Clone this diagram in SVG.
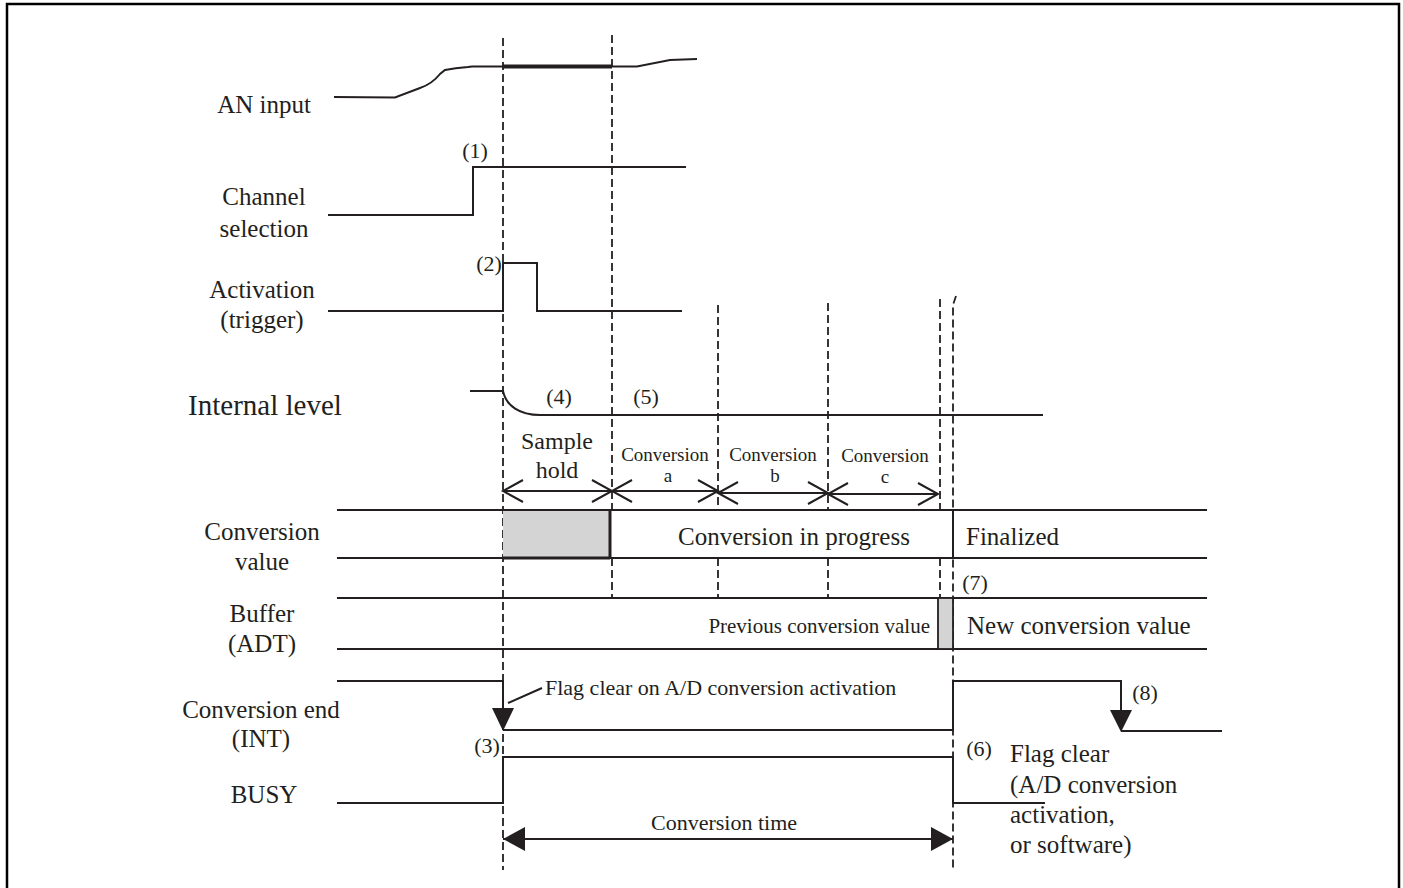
<svg xmlns="http://www.w3.org/2000/svg" width="1403" height="888" viewBox="0 0 1403 888">
<style>
text{font-family:"Liberation Serif","Times New Roman",serif;fill:#231f20}
.lbl{font-size:25px;text-anchor:middle}
.num{font-size:22px;text-anchor:middle}
.ph{font-size:19px;text-anchor:middle}
.w{fill:none;stroke:#231f20;stroke-width:2}
.dash{fill:none;stroke:#231f20;stroke-width:1.8;stroke-dasharray:8 4}
.oa{fill:none;stroke:#231f20;stroke-width:2}
.fa{fill:#231f20;stroke:none}
</style>
<rect x="7" y="4" width="1392" height="890" fill="#fff" stroke="#000" stroke-width="2.5"/>

<g id="guides">
<path class="dash" d="M503,38 V870"/>
<path class="dash" d="M612,35 V510 M612,558 V598"/>
<path class="dash" d="M718,305 V510 M718,558 V598"/>
<path class="dash" d="M828,303 V510 M828,558 V598"/>
<path class="dash" d="M940,299 V510 M940,558 V598"/>
<path class="dash" d="M956,296 L953,305 V870"/>
</g>

<g id="labels">
<text class="lbl" x="264" y="113">AN input</text>
<text class="lbl" x="264" y="205">Channel</text>
<text class="lbl" x="264" y="237">selection</text>
<text class="lbl" x="262" y="298">Activation</text>
<text class="lbl" x="262" y="328">(trigger)</text>
<text class="lbl" x="265" y="415" style="font-size:29px">Internal level</text>
<text class="lbl" x="262" y="540">Conversion</text>
<text class="lbl" x="262" y="570">value</text>
<text class="lbl" x="262" y="622">Buffer</text>
<text class="lbl" x="262" y="652">(ADT)</text>
<text class="lbl" x="261" y="718">Conversion end</text>
<text class="lbl" x="261" y="747">(INT)</text>
<text class="lbl" x="264" y="803">BUSY</text>
</g>

<g id="an-input">
<path class="w" d="M334,97 L395,97.5 L420,88 Q432,84 440,74 L445,70 Q455,68 468,67 L472,66.5 H637 L670,60 L697,59"/>
<path d="M503,66.5 H612" stroke="#231f20" stroke-width="4" fill="none"/>
</g>

<g id="channel-selection">
<path class="w" d="M328,215 H473 V167 H686"/>
<text class="num" x="475" y="158">(1)</text>
</g>

<g id="activation">
<path class="w" d="M328,311 H503 V263 H537 V311 H682"/>
<text class="num" x="489" y="271">(2)</text>
</g>

<g id="internal-level">
<path class="w" d="M470,391 H503 C506,406 520,415 540,415 H1043"/>
<text class="num" x="559" y="404">(4)</text>
<text class="num" x="646" y="404">(5)</text>
</g>

<g id="phases">
<text x="557" y="449" style="font-size:24px;text-anchor:middle">Sample</text>
<text x="557" y="478" style="font-size:24px;text-anchor:middle">hold</text>
<text class="ph" x="665" y="461">Conversion</text>
<text class="ph" x="668" y="482">a</text>
<text class="ph" x="773" y="461">Conversion</text>
<text class="ph" x="775" y="482">b</text>
<text class="ph" x="885" y="462">Conversion</text>
<text class="ph" x="885" y="483">c</text>
</g>

<g id="connectors">
<path class="oa" d="M503,491 H612 M523,480 L503,491 L523,502 M592,480 L612,491 L592,502"/>
<path class="oa" d="M612,491 H718 M632,480 L612,491 L632,502 M698,480 L718,491 L698,502"/>
<path class="oa" d="M718,493 H828 M738,482 L718,493 L738,504 M808,482 L828,493 L808,504"/>
<path class="oa" d="M828,494 H938 M848,483 L828,494 L848,505 M918,483 L938,494 L918,505"/>
<path class="w" d="M503,839 H953"/>
<path class="fa" d="M503,839 L525,827 V851 Z"/>
<path class="fa" d="M953,839 L931,827 V851 Z"/>
<path class="w" d="M508,703 L542,688" stroke-width="1.6"/>
</g>

<g id="conversion-value">
<rect x="503" y="510" width="107" height="48" fill="#d4d4d4"/>
<path class="w" d="M337,510 H1207 M337,558 H1207"/>
<path d="M610,510 V559" stroke="#231f20" stroke-width="3"/>
<path d="M503,558 H610" stroke="#231f20" stroke-width="3"/>
<path class="w" d="M953,510 V558"/>
<text x="678" y="545" style="font-size:25px">Conversion in progress</text>
<text x="966" y="545" style="font-size:25px">Finalized</text>
<text class="num" x="975" y="590">(7)</text>
</g>

<g id="buffer">
<path class="w" d="M337,598 H1207 M337,649 H1207"/>
<rect x="938" y="598" width="15" height="51" fill="#d4d4d4" stroke="#231f20" stroke-width="1.8"/>
<text x="930" y="633" style="font-size:21px;text-anchor:end">Previous conversion value</text>
<text x="967" y="634" style="font-size:25px">New conversion value</text>
</g>

<g id="conversion-end">
<path class="w" d="M337,681 H503 V712 M503,730 H953 V681 H1121 V713 M1121,731 H1222"/>
<path class="fa" d="M492,708 H514 L503,731 Z"/>
<path class="fa" d="M1110,710 H1132 L1121,732 Z"/>
<text class="num" x="487" y="753">(3)</text>
<text class="num" x="1145" y="700">(8)</text>
<text x="545" y="695" style="font-size:22px">Flag clear on A/D conversion activation</text>
</g>

<g id="busy">
<path class="w" d="M337,803 H503 V757 H953 V803 H1045"/>
<text class="num" x="979" y="756">(6)</text>
<text x="1010" y="762" style="font-size:25px">Flag clear</text>
<text x="1010" y="793" style="font-size:25px">(A/D conversion</text>
<text x="1010" y="823" style="font-size:25px">activation,</text>
<text x="1010" y="853" style="font-size:25px">or software)</text>
</g>

<g id="conversion-time">
<text x="724" y="830" style="font-size:22px;text-anchor:middle">Conversion time</text>
</g>
</svg>
